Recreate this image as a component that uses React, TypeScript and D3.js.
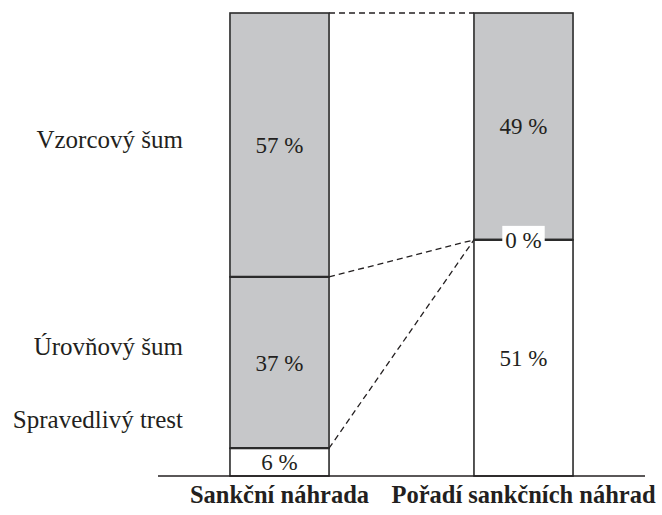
import React, { useEffect, useRef } from 'react';
import * as d3 from 'd3';

const categories = ['Sankční náhrada', 'Pořadí sankčních náhrad'];
const seriesNames = ['Spravedlivý trest', 'Úrovňový šum', 'Vzorcový šum'];
const spravedlivyTrest = [6, 51];
const urovnovySum = [37, 0];
const vzorcovySum = [57, 49];

// hand placed offsets of the left labels against their segment middle
const labelNudge = [-34, -8, 3];

const App = () => {
  const ref = useRef<SVGSVGElement | null>(null);

  useEffect(() => {
    const svg = d3.select(ref.current);
    svg.selectAll('*').remove();

    const width = 662;
    const height = 515;
    const font = "'Liberation Serif', 'Times New Roman', serif";
    const ink = '#231f20';

    const rows = categories.map((c, i) => ({
      category: c,
      [seriesNames[0]]: spravedlivyTrest[i],
      [seriesNames[1]]: urovnovySum[i],
      [seriesNames[2]]: vzorcovySum[i],
    }));
    const stacked = d3.stack<any>().keys(seriesNames)(rows);

    const x = d3.scaleBand()
      .domain(categories)
      .range([158, 645])
      .paddingInner(0.594)
      .paddingOuter(0.295);

    const y = d3.scaleLinear()
      .domain([0, 100])
      .range([476, 13]);

    svg.attr('width', width).attr('height', height);

    const fills = ['#ffffff', '#c6c7c9', '#c6c7c9'];

    // dashed connectors between the bars
    const x0 = (x(categories[0]) as number) + x.bandwidth();
    const x1 = x(categories[1]) as number;
    svg.append('g')
      .selectAll('line')
      .data(stacked)
      .enter()
      .append('line')
      .attr('x1', x0)
      .attr('x2', x1)
      .attr('y1', s => y(s[0][1]))
      .attr('y2', s => y(s[1][1]))
      .attr('stroke', ink)
      .attr('stroke-width', 1.3)
      .attr('stroke-dasharray', '6,4');

    // segments
    const layers = svg.append('g')
      .selectAll('g')
      .data(stacked)
      .enter()
      .append('g')
      .attr('fill', (_, i) => fills[i]);

    layers.selectAll('rect')
      .data(s => s.map((d, j) => ({ d, cat: categories[j] })))
      .enter()
      .append('rect')
      .attr('x', p => x(p.cat) as number)
      .attr('width', x.bandwidth())
      .attr('y', p => y(p.d[1]))
      .attr('height', p => y(p.d[0]) - y(p.d[1]))
      .attr('stroke', '#2b2b2b')
      .attr('stroke-width', 1.6);

    // boundary lines drawn heavier
    svg.append('g')
      .selectAll('line')
      .data(stacked.slice(0, 2).flatMap(s => s.map((d, j) => ({ d, cat: categories[j] }))))
      .enter()
      .append('line')
      .attr('x1', p => x(p.cat) as number)
      .attr('x2', p => (x(p.cat) as number) + x.bandwidth())
      .attr('y1', p => y(p.d[1]))
      .attr('y2', p => y(p.d[1]))
      .attr('stroke', '#2b2b2b')
      .attr('stroke-width', 2.2);

    // value labels
    const values = stacked.flatMap(s => s.map((d, j) => ({ d, cat: categories[j], v: d[1] - d[0] })));
    const vl = svg.append('g')
      .style('font-family', font)
      .style('font-size', '23px')
      .attr('fill', ink)
      .attr('text-anchor', 'middle');

    values.forEach(p => {
      const cx = (x(p.cat) as number) + x.bandwidth() / 2;
      const cy = y((p.d[0] + p.d[1]) / 2);
      const t = vl.append('text').attr('x', cx).attr('y', cy).attr('dy', '0.35em').text(`${p.v} %`);
      if (p.v === 0) {
        const b = (t.node() as SVGTextElement).getBBox();
        vl.insert('rect', () => t.node())
          .attr('x', b.x - 3)
          .attr('y', cy - 14)
          .attr('width', b.width + 6)
          .attr('height', 25)
          .attr('fill', '#fff');
      }
    });

    // series names on the left
    svg.append('g')
      .style('font-family', font)
      .style('font-size', '25px')
      .attr('fill', ink)
      .attr('text-anchor', 'end')
      .selectAll('text')
      .data(stacked)
      .enter()
      .append('text')
      .attr('x', (x(categories[0]) as number) - 47)
      .attr('y', (s, i) => y((s[0][0] + s[0][1]) / 2) + labelNudge[i])
      .text(s => s.key);

    // baseline
    svg.append('line')
      .attr('x1', x.range()[0])
      .attr('x2', x.range()[1])
      .attr('y1', y(0))
      .attr('y2', y(0))
      .attr('stroke', ink)
      .attr('stroke-width', 1.6);

    // category labels
    svg.append('g')
      .style('font-family', font)
      .style('font-size', '24.5px')
      .style('font-weight', 'bold')
      .attr('fill', ink)
      .attr('text-anchor', 'middle')
      .selectAll('text')
      .data(categories)
      .enter()
      .append('text')
      .attr('x', c => (x(c) as number) + x.bandwidth() / 2)
      .attr('y', 503)
      .text(c => c);
  }, []);

  return (
    <svg ref={ref} style={{ position: 'absolute', left: 0, top: 0, background: '#fff' }}></svg>
  );
};

export default App;
